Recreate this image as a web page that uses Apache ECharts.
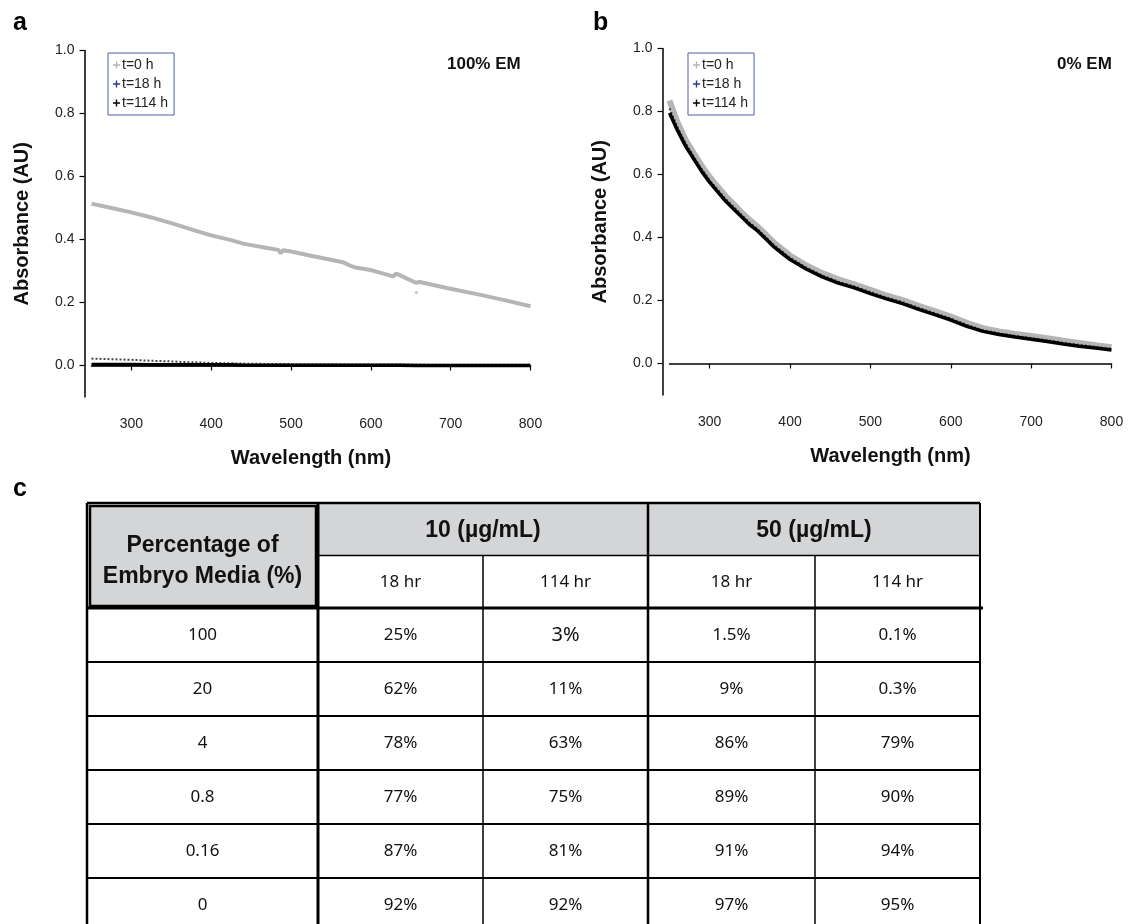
<!DOCTYPE html>
<html lang="en">
<head>
<meta charset="UTF-8">
<title>Absorbance spectra</title>
<style>
    html, body { margin: 0; padding: 0; background: #fff; }
    #box { width: 1129px; height: 924px; }
</style>
</head>
<body>
<div id="box"></div>
<script src="https://cdn.jsdelivr.net/npm/echarts@6/dist/echarts.min.js"></script>
<script>
    // panel a : 100% EM
    var wlA = [250, 275, 300, 325, 350, 365, 380, 400, 425, 440, 470, 484, 487, 490, 500, 528, 565, 575, 582, 600, 628, 632, 636, 657, 660, 695, 736, 770, 800];
    var aT0 = [0.514, 0.500, 0.486, 0.470, 0.452, 0.440, 0.428, 0.413, 0.398, 0.387, 0.373, 0.367, 0.356, 0.366, 0.362, 0.347, 0.328, 0.316, 0.310, 0.303, 0.283, 0.292, 0.287, 0.262, 0.266, 0.246, 0.225, 0.206, 0.188];
    var aT18 = [0.022, 0.020, 0.018, 0.015, 0.013, 0.011, 0.010, 0.008, 0.007, 0.006, 0.005, 0.005, 0.005, 0.005, 0.004, 0.004, 0.004, 0.003, 0.003, 0.003, 0.003, 0.003, 0.003, 0.003, 0.003, 0.002, 0.002, 0.002, 0.002];
    var aT114 = [0.003, 0.003, 0.003, 0.002, 0.002, 0.002, 0.002, 0.002, 0.002, 0.001, 0.001, 0.001, 0.001, 0.001, 0.001, 0.001, 0.001, 0.001, 0.001, 0.001, 0.001, 0.001, 0.001, 0.000, 0.000, 0.000, 0.000, 0.000, 0.000];
    var aOutlier = [[657, 0.232]];

    // panel b : 0% EM
    var wlB = [250, 260, 270, 280, 290, 300, 310, 320, 330, 340, 350, 360, 370, 380, 390, 400, 420, 440, 460, 480, 500, 520, 540, 560, 580, 600, 620, 640, 660, 680, 700, 720, 740, 760, 780, 800];
    var bT0 = [0.835, 0.765, 0.710, 0.668, 0.628, 0.592, 0.561, 0.531, 0.505, 0.479, 0.455, 0.434, 0.409, 0.384, 0.363, 0.343, 0.312, 0.287, 0.267, 0.251, 0.234, 0.216, 0.201, 0.183, 0.166, 0.149, 0.129, 0.112, 0.102, 0.094, 0.087, 0.080, 0.072, 0.065, 0.058, 0.052];
    var bT18 = [0.810, 0.750, 0.700, 0.658, 0.618, 0.582, 0.552, 0.522, 0.497, 0.471, 0.447, 0.426, 0.401, 0.376, 0.356, 0.336, 0.305, 0.280, 0.260, 0.245, 0.227, 0.210, 0.195, 0.177, 0.160, 0.143, 0.123, 0.106, 0.096, 0.088, 0.081, 0.074, 0.066, 0.059, 0.053, 0.047];
    var bT114 = [0.795, 0.740, 0.690, 0.650, 0.610, 0.575, 0.545, 0.515, 0.490, 0.465, 0.440, 0.420, 0.395, 0.370, 0.350, 0.330, 0.300, 0.275, 0.255, 0.240, 0.222, 0.205, 0.190, 0.172, 0.155, 0.138, 0.118, 0.102, 0.092, 0.084, 0.077, 0.070, 0.062, 0.055, 0.049, 0.043];

    var xTicks = [300, 400, 500, 600, 700, 800];
    var yTicks = [0, 0.2, 0.4, 0.6, 0.8, 1.0];
    var legendNames = ['t=0 h', 't=18 h', 't=114 h'];

    // panel c : table
    var mediaPct = ['100', '20', '4', '0.8', '0.16', '0'];
    var c10h18 = ['25%', '62%', '78%', '77%', '87%', '92%'];
    var c10h114 = ['3%', '11%', '63%', '75%', '81%', '92%'];
    var c50h18 = ['1.5%', '9%', '86%', '89%', '91%', '97%'];
    var c50h114 = ['0.1%', '0.3%', '79%', '90%', '94%', '95%'];
    var concHeads = ['10 (\u00b5g/mL)', '50 (\u00b5g/mL)'];
    var timeHeads = ['18 hr', '114 hr', '18 hr', '114 hr'];

    var ARIAL = 'Liberation Sans, Arial, sans-serif';
    var BODY = 'Noto Sans, Open Sans, sans-serif';
    var plus = 'path://M4,0h2v4h4v2h-4v4h-2v-4h-4v-2h4z';

    function pairs(x, y) {
        return x.map(function (v, i) { return [v, y[i]]; });
    }

    function makeX(gi) {
        return {
            type: 'value', gridIndex: gi, min: 250, max: 800, offset: 6,
            axisLine: { show: true, lineStyle: { color: '#000', width: 1.5 } },
            axisTick: { show: true, length: 5, customValues: xTicks, lineStyle: { color: '#000', width: 1.2 } },
            axisLabel: { customValues: xTicks, margin: 14, fontSize: 14, color: '#222', fontFamily: ARIAL },
            splitLine: { show: false },
            name: 'Wavelength (nm)', nameLocation: 'middle', nameGap: 45,
            nameTextStyle: { fontSize: 20, fontWeight: 'bold', color: '#111', fontFamily: ARIAL }
        };
    }

    function makeY(gi) {
        return {
            type: 'value', gridIndex: gi, min: -0.1, max: 1.0, offset: 7,
            axisLine: { show: true, lineStyle: { color: '#000', width: 1.5 } },
            axisTick: { show: true, length: 5, customValues: yTicks, lineStyle: { color: '#000', width: 1.2 } },
            axisLabel: {
                customValues: yTicks, margin: 10, fontSize: 14, color: '#222', fontFamily: ARIAL,
                formatter: function (v) { return v.toFixed(1); }
            },
            splitLine: { show: false },
            name: 'Absorbance (AU)', nameLocation: 'middle', nameGap: 52,
            nameTextStyle: { fontSize: 20, fontWeight: 'bold', color: '#111', fontFamily: ARIAL }
        };
    }

    function makeLegend(left) {
        return {
            data: legendNames, left: left, top: 53, orient: 'vertical',
            icon: plus, itemWidth: 7, itemHeight: 7, itemGap: 5,
            padding: [5, 6, 5, 5], borderColor: '#4a5fae', borderWidth: 1,
            selectedMode: false,
            textStyle: { fontSize: 14, color: '#222', fontFamily: ARIAL, padding: [0, 0, 0, -3] }
        };
    }

    function spectra(gi, wl, t0, t18, t114, t0width) {
        return [
            { name: 't=0 h', type: 'line', xAxisIndex: gi, yAxisIndex: gi, data: pairs(wl, t0), showSymbol: false,
              lineStyle: { color: '#b5b5b5', width: t0width }, itemStyle: { color: '#b5b5b5' }, z: 2 },
            { name: 't=18 h', type: 'line', xAxisIndex: gi, yAxisIndex: gi, data: pairs(wl, t18), showSymbol: false,
              lineStyle: { color: '#444', width: 2, type: 'dotted' }, itemStyle: { color: '#2b3990' }, z: 3 },
            { name: 't=114 h', type: 'line', xAxisIndex: gi, yAxisIndex: gi, data: pairs(wl, t114), showSymbol: false,
              lineStyle: { color: '#000', width: 3.5 }, itemStyle: { color: '#000' }, z: 4 }
        ];
    }

    // table geometry
    var colX = [87, 318, 483, 648, 815, 980];
    var T = 503, HH = 52.5, H = 54;
    var bodyTop = T + 2 * HH;
    var bottom = 924;
    var graphics = [];
    function hline(y, x1, x2, w) {
        graphics.push({ type: 'line', shape: { x1: x1, y1: y, x2: x2, y2: y }, style: { stroke: '#000', lineWidth: w } });
    }
    function vline(x, y1, y2, w) {
        graphics.push({ type: 'line', shape: { x1: x, y1: y1, x2: x, y2: y2 }, style: { stroke: '#000', lineWidth: w } });
    }
    function cell(txt, cx, cy, font) {
        graphics.push({ type: 'text', x: cx, y: cy, style: { text: txt, font: font, fill: '#111', align: 'center', verticalAlign: 'middle', textAlign: 'center', textVerticalAlign: 'middle' } });
    }
    graphics.push({ type: 'rect', shape: { x: colX[1], y: T, width: colX[5] - colX[1], height: HH }, style: { fill: '#d4d5d7' } });
    graphics.push({ type: 'rect', shape: { x: colX[0] + 3, y: T + 3, width: colX[1] - colX[0] - 5, height: 2 * HH - 5 }, style: { fill: '#d4d5d7', stroke: '#000', lineWidth: 2.5 } });
    hline(T, colX[0], colX[5], 2.5);
    hline(T + HH, colX[1], colX[5], 1.5);
    hline(bodyTop, colX[0], colX[5] + 3, 3);
    for (var r = 1; r < 6; r++) hline(bodyTop + r * H, colX[0], colX[5], 2);
    vline(colX[0], T, bottom, 2.5);
    vline(colX[1], T, bottom, 3);
    vline(colX[2], T + HH, bottom, 1.5);
    vline(colX[3], T, bottom, 2.5);
    vline(colX[4], T + HH, bottom, 1.5);
    vline(colX[5], T, bottom, 2);

    var mid = function (i) { return (colX[i] + colX[i + 1]) / 2; };
    cell('Percentage of', mid(0), T + 0.41 * 2 * HH, 'bold 23px ' + ARIAL);
    cell('Embryo Media (%)', mid(0), T + 0.70 * 2 * HH, 'bold 23px ' + ARIAL);
    cell(concHeads[0], (colX[1] + colX[3]) / 2, T + HH / 2 + 1, 'bold 23px ' + ARIAL);
    cell(concHeads[1], (colX[3] + colX[5]) / 2, T + HH / 2 + 1, 'bold 23px ' + ARIAL);
    timeHeads.forEach(function (t, i) { cell(t, mid(i + 1), T + 1.5 * HH, '17px ' + BODY); });
    var cols = [mediaPct, c10h18, c10h114, c50h18, c50h114];
    for (var i = 0; i < mediaPct.length; i++) {
        for (var j = 0; j < cols.length; j++) {
            var f = (j === 2 && i === 0) ? '20px ' + BODY : '17px ' + BODY;
            cell(cols[j][i], mid(j), bodyTop + (0.5 + i) * H, f);
        }
    }

    var box = echarts.init(document.getElementById('box'), null, { renderer: 'canvas' });
    var option = {
        animation: false,
        backgroundColor: '#fff',
        title: [
            { text: 'a', left: 8, top: 6, textStyle: { fontSize: 25, fontWeight: 'bold', color: '#000', fontFamily: ARIAL } },
            { text: 'b', left: 588, top: 6, textStyle: { fontSize: 25, fontWeight: 'bold', color: '#000', fontFamily: ARIAL } },
            { text: 'c', left: 8, top: 472, textStyle: { fontSize: 25, fontWeight: 'bold', color: '#000', fontFamily: ARIAL } },
            { text: '100% EM', left: 442, top: 51, textStyle: { fontSize: 17, fontWeight: 'bold', color: '#111', fontFamily: ARIAL } },
            { text: '0% EM', left: 1052, top: 51, textStyle: { fontSize: 17, fontWeight: 'bold', color: '#111', fontFamily: ARIAL } }
        ],
        legend: [makeLegend(108), makeLegend(688)],
        grid: [
            { left: 91.5, top: 50.5, width: 439, height: 346.5 },
            { left: 669.5, top: 48.5, width: 442, height: 346.5 }
        ],
        xAxis: [makeX(0), makeX(1)],
        yAxis: [makeY(0), makeY(1)],
        series: spectra(0, wlA, aT0, aT18, aT114, 4)
            .concat([{ name: 't=0 h', type: 'scatter', xAxisIndex: 0, yAxisIndex: 0, data: aOutlier, symbolSize: 3, itemStyle: { color: '#b5b5b5' } }])
            .concat(spectra(1, wlB, bT0, bT18, bT114, 6)),
        graphic: graphics
    };
    box.setOption(option);
</script>
</body>
</html>
